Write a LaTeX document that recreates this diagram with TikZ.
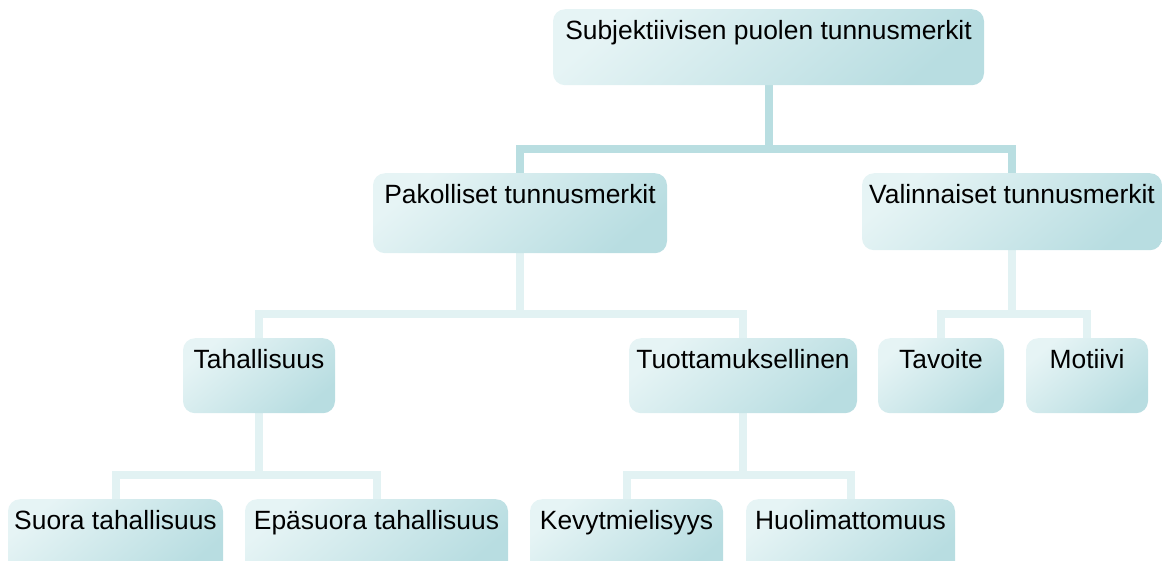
\documentclass[tikz,border=0pt]{standalone}
\usepackage{fontspec}
\setmainfont{Liberation Sans}
\usetikzlibrary{backgrounds}
\definecolor{boxlight}{HTML}{E6F4F5}
\definecolor{boxmid}{HTML}{D6ECEE}
\definecolor{boxdark}{HTML}{B8DDE1}
\definecolor{conndark}{HTML}{B9DEE1}
\definecolor{connlight}{HTML}{E2F2F3}
\tikzset{
  box/.style={shade, top color=boxlight, middle color=boxmid, bottom color=boxdark,
    shading angle=40, rounded corners=12pt, inner sep=0pt, anchor=north,
    align=center, text height=30pt, text=black,
    font=\fontsize{26.4pt}{30pt}\selectfont},
  cdark/.style={draw=conndark, line width=8pt},
  clight/.style={draw=connlight, line width=8pt}
}
\begin{document}
\begin{tikzpicture}[x=1pt,y=-1pt]
\useasboundingbox (0,0) rectangle (1162,560);
\clip (0,0) rectangle (1162,560);
\node[box, minimum width=431pt, text depth=46pt] (top) at (768.5,9) {Subjektiivisen puolen tunnusmerkit};
\node[box, minimum width=294pt, text depth=50pt] (pak) at (520,173) {Pakolliset tunnusmerkit};
\node[box, minimum width=300pt, text depth=47pt] (val) at (1012,173) {Valinnaiset tunnusmerkit};
\node[box, minimum width=152pt, text depth=45pt] (tah) at (259,338) {Tahallisuus};
\node[box, minimum width=228pt, text depth=45pt] (tuo) at (743,338) {Tuottamuksellinen};
\node[box, minimum width=126pt, text depth=45pt] (tav) at (941,338) {Tavoite};
\node[box, minimum width=122pt, text depth=45pt] (mot) at (1087,338) {Motiivi};
\node[box, minimum width=215pt, text depth=46pt] (suo) at (115.5,499) {Suora tahallisuus};
\node[box, minimum width=263pt, text depth=46pt] (epa) at (376.5,499) {Epäsuora tahallisuus};
\node[box, minimum width=193pt, text depth=46pt] (kev) at (626.5,499) {Kevytmielisyys};
\node[box, minimum width=209pt, text depth=46pt] (huo) at (850.5,499) {Huolimattomuus};
\coordinate (b1) at (768.5,148.5);
\coordinate (b2) at (520,314);
\coordinate (b3) at (1012,314);
\coordinate (b4) at (259,475);
\coordinate (b5) at (743,475);
\begin{scope}[on background layer]
\draw[cdark] (top.south) -- (b1) -| (pak.north);
\draw[cdark] (b1) -| (val.north);
\draw[clight] (pak.south) -- (b2) -| (tah.north);
\draw[clight] (b2) -| (tuo.north);
\draw[clight] (val.south) -- (b3) -| (tav.north);
\draw[clight] (b3) -| (mot.north);
\draw[clight] (tah.south) -- (b4) -| (suo.north);
\draw[clight] (b4) -| (epa.north);
\draw[clight] (tuo.south) -- (b5) -| (kev.north);
\draw[clight] (b5) -| (huo.north);
\end{scope}
\end{tikzpicture}
\end{document}
